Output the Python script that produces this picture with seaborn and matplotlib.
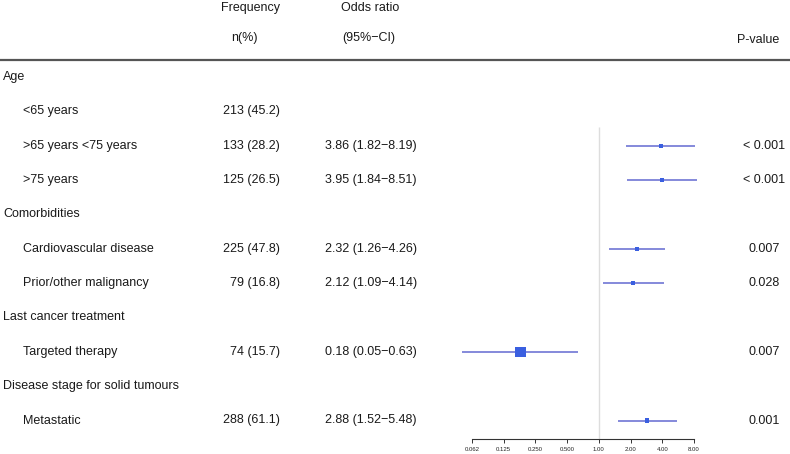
import numpy as np
import pandas as pd
from matplotlib import pyplot as plt
from matplotlib.transforms import blended_transform_factory
import seaborn as sns

# table rows (None = group header)
labels = ["Age", "<65 years", ">65 years <75 years", ">75 years",
          "Comorbidities", "Cardiovascular disease", "Prior/other malignancy",
          "Last cancer treatment", "Targeted therapy",
          "Disease stage for solid tumours", "Metastatic"]
is_header = [True, False, False, False, True, False, False, True, False, True, False]
freq = ["", "213 (45.2)", "133 (28.2)", "125 (26.5)", "", "225 (47.8)",
        "79 (16.8)", "", "74 (15.7)", "", "288 (61.1)"]
odds = [np.nan, np.nan, 3.86, 3.95, np.nan, 2.32, 2.12, np.nan, 0.18, np.nan, 2.88]
ci_low = [np.nan, np.nan, 1.82, 1.84, np.nan, 1.26, 1.09, np.nan, 0.05, np.nan, 1.52]
ci_high = [np.nan, np.nan, 8.19, 8.51, np.nan, 4.26, 4.14, np.nan, 0.63, np.nan, 5.48]
pvals = ["", "", "< 0.001", "< 0.001", "", "0.007", "0.028", "", "0.007", "", "0.001"]
ticks = [0.0625, 0.125, 0.25, 0.5, 1, 2, 4, 8]
tick_labels = ["0.062", "0.125", "0.250", "0.500", "1.00", "2.00", "4.00", "8.00"]

df = pd.DataFrame({"label": labels, "header": is_header, "freq": freq,
                   "odds": odds, "low": ci_low, "high": ci_high, "p": pvals})
df["row"] = np.arange(len(df))

sns.set_theme(style="white")
plt.rcParams['font.family'] = ['Liberation Sans', 'DejaVu Sans']

W, H = 790, 454
fig = plt.figure(figsize=(W / 100, H / 100), dpi=100)

# row i sits at pixel 77 + 34.35*i
row0, step = 77, 34.35
def prow(py):
    return (py - row0) / step

x_left = 472 - 31.7 * 0.5
x_right = 694 + 31.7 * 0.5
ax = fig.add_axes([x_left / W, 0, (x_right - x_left) / W, 1])
ax.set_xscale("log", base=2)
ax.set_xlim(2 ** -4.5, 2 ** 3.5)
ax.set_ylim(prow(H), prow(0))
ax.patch.set_alpha(0)

# reference line at OR = 1
ax.vlines(1, prow(127), prow(439), color="#dddddd", lw=1, zorder=1)

est = df.dropna(subset=["odds"])
ax.hlines(est["row"], est["low"], est["high"], color="#7b80d8", lw=1.3, zorder=2)
big = est["label"] == "Targeted therapy"
sns.scatterplot(data=est[~big], x="odds", y="row", marker="s", s=9,
                color="#3a5fe0", edgecolor="none", ax=ax, zorder=3)
sns.scatterplot(data=est[big], x="odds", y="row", marker="s", s=55,
                color="#3a5fe0", edgecolor="none", ax=ax, zorder=3)

# x axis drawn as a floating bottom spine
for side in ["top", "right", "left"]:
    ax.spines[side].set_visible(False)
ax.spines["bottom"].set_position(("data", prow(439)))
ax.spines["bottom"].set_bounds(ticks[0], ticks[-1])
ax.spines["bottom"].set_color("#333333")
ax.spines["bottom"].set_linewidth(0.8)
ax.set_xticks(ticks)
ax.set_xticklabels(tick_labels)
ax.minorticks_off()
ax.tick_params(axis="x", bottom=True, length=3, width=0.7, color="#333333",
               labelsize=4.3, pad=2.5, labelcolor="#222222")
ax.set_yticks([])
ax.set_xlabel("")
ax.set_ylabel("")

tr = blended_transform_factory(fig.transFigure, ax.transData)
fs = 9
tc = "#1a1a1a"

# column headers
fig.text(251 / W, 1 - 8 / H, "Frequency", ha="center", va="center", fontsize=fs, color=tc)
fig.text(244 / W, 1 - 38 / H, "n(%)", ha="center", va="center", fontsize=fs, color=tc)
fig.text(370 / W, 1 - 8 / H, "Odds ratio", ha="center", va="center", fontsize=fs, color=tc)
fig.text(369 / W, 1 - 38 / H, "(95%\u2212CI)", ha="center", va="center", fontsize=fs, color=tc)
fig.text(779 / W, 1 - 40 / H, "P-value", ha="right", va="center", fontsize=fs, color=tc)
fig.add_artist(plt.Line2D([0, 1], [1 - 60 / H, 1 - 60 / H], transform=fig.transFigure,
                          color="#555555", lw=1.6))

for _, r in df.iterrows():
    x0 = 3 if r["header"] else 23
    ax.text(x0 / W, r["row"], r["label"], transform=tr, ha="left", va="center",
            fontsize=fs, color=tc)
    if r["freq"]:
        ax.text(280 / W, r["row"], r["freq"], transform=tr, ha="right", va="center",
                fontsize=fs, color=tc)
    if not np.isnan(r["odds"]):
        s = "{:.2f} ({:.2f}\u2212{:.2f})".format(r["odds"], r["low"], r["high"])
        ax.text(371 / W, r["row"], s, transform=tr, ha="center", va="center",
                fontsize=fs, color=tc)
    if r["p"]:
        ax.text(764 / W, r["row"], r["p"], transform=tr, ha="center", va="center",
                fontsize=fs, color=tc)

plt.savefig("out.png", dpi=100)
